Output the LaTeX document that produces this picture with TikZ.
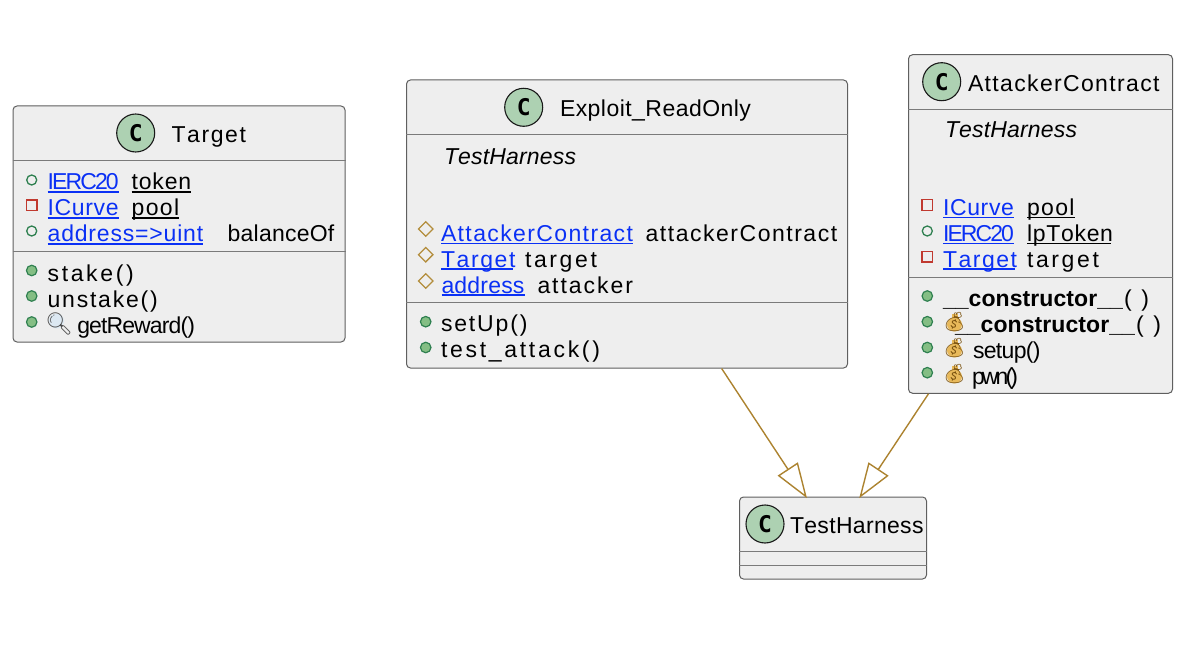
\documentclass[tikz,border=0pt]{standalone}
\usepackage{fontspec}
\setmainfont{Liberation Sans}
\newfontfamily\cfont{DejaVu Sans Mono}
\newfontfamily\emojifont{Noto Emoji}
\usetikzlibrary{arrows.meta,shapes.geometric}
\definecolor{boxfill}{HTML}{EEEEEE}
\definecolor{boxline}{HTML}{5F5F5F}
\definecolor{sepline}{HTML}{7A7A7A}
\definecolor{linkblue}{HTML}{0A30F5}
\definecolor{relcol}{HTML}{AC8330}
\definecolor{spotfill}{HTML}{ADD1B2}
\definecolor{dotfill}{HTML}{84BE84}
\definecolor{dotline}{HTML}{2F8050}
\definecolor{sqline}{HTML}{C0392F}
\definecolor{diaLine}{HTML}{B38D3C}
\definecolor{baggold}{HTML}{E8B95A}
\definecolor{bagdark}{HTML}{7A5210}
\definecolor{lensfill}{HTML}{DCE8F2}
\newcommand\fsz{\fontsize{23}{27}\selectfont}
\makeatletter
\newdimen\fitd \newcount\fitn \newsavebox\fitb
\newcommand\fitbox[2]{\hbox{%
  \sbox\fitb{#2}\fitn=-1
  \@tfor\fititem:=#2\do{\advance\fitn 1 }%
  \fitd=#1pt \advance\fitd-\wd\fitb \divide\fitd\fitn
  \@tfor\fititem:=#2\do{\fititem\kern\fitd}\unkern}}
\makeatother
\newcommand\ulfit[2]{\rlap{\rule[-2.6pt]{#1pt}{1.2pt}}\fitbox{#1}{#2}}
\newcounter{nn}
\newcommand\Txt[5][]{\stepcounter{nn}\node[lbl,#1] (t\thenn) at (#2,#3) {\fitbox{#4}{#5}};}
\newcommand\Ul[5][]{\stepcounter{nn}\node[lbl,#1] (t\thenn) at (#2,#3) {\ulfit{#4}{#5}};}
\newcommand\Link[4]{\Ul[text=linkblue]{#1}{#2}{#3}{#4}}
\newcommand\Mark[3]{\stepcounter{nn}\node[#1] (m\thenn) at (#2,#3) {};}
\newcommand\Spot[2]{\stepcounter{nn}\node[spot] (s\thenn) at (#1,#2) {C};}
\newcommand\Bag[2]{\stepcounter{nn}%
  \fill[baggold] (#1,#2+2.5) ellipse (7.5pt and 7pt);
  \fill[baggold] (#1-3,#2-8) rectangle (#1+3,#2-2);
  \node[emo,text=bagdark] (e\thenn) at (#1,#2) {\char"1F4B0};}
\tikzset{
  box/.style={draw=boxline,fill=boxfill,line width=1pt,rounded corners=4pt,inner sep=0pt},
  sep/.style={draw=sepline,line width=1pt},
  lbl/.style={anchor=base west,inner sep=0pt,outer sep=0pt,font=\fsz,text=black},
  spot/.style={circle,draw=black!90,fill=spotfill,line width=1.1pt,minimum size=38pt,inner sep=0pt,font=\fontsize{23}{23}\selectfont\cfont\bfseries},
  pubf/.style={circle,draw=dotline,line width=1.3pt,minimum size=10pt,inner sep=0pt},
  pubm/.style={circle,draw=dotline,fill=dotfill,line width=1.2pt,minimum size=10.5pt,inner sep=0pt},
  privf/.style={rectangle,draw=sqline,line width=1.3pt,minimum size=10.5pt,inner sep=0pt},
  protf/.style={diamond,draw=diaLine,line width=1.3pt,minimum width=15pt,minimum height=15pt,inner sep=0pt},
  emo/.style={inner sep=0pt,font=\fontsize{19}{19}\selectfont\emojifont},
  ext/.style={draw=relcol,line width=1.4pt,shorten >=-2pt,-{Triangle[open,fill=white,length=35pt,width=24pt]}},
}
\begin{document}
\begin{tikzpicture}[x=1pt,y=-1pt]
\useasboundingbox (0,0) rectangle (1189,647);
% boxes
\node[box,minimum width=332pt,minimum height=236pt] (target) at (179,224) {};
\node[box,minimum width=441pt,minimum height=288pt] (exploit) at (627,224) {};
\node[box,minimum width=264pt,minimum height=338.5pt] (attacker) at (1040.5,224) {};
\node[box,minimum width=187pt,minimum height=82pt] (harness) at (833,538) {};
% relations
\draw[ext] (exploit) -- (harness);
\draw[ext] (attacker) -- (harness);
% separators
\draw[sep] (target.west |- 0,160.5) -- (target.east |- 0,160.5);
\draw[sep] (target.west |- 0,251.5) -- (target.east |- 0,251.5);
\draw[sep] (exploit.west |- 0,135) -- (exploit.east |- 0,135);
\draw[sep] (exploit.west |- 0,302.7) -- (exploit.east |- 0,302.7);
\draw[sep] (attacker.west |- 0,109.3) -- (attacker.east |- 0,109.3);
\draw[sep] (attacker.west |- 0,277.3) -- (attacker.east |- 0,277.3);
\draw[sep] (harness.west |- 0,551.7) -- (harness.east |- 0,551.7);
\draw[sep] (harness.west |- 0,565.3) -- (harness.east |- 0,565.3);
% Target
\Spot{135.7}{133}
\Txt{171.5}{143}{72}{Target}
\Mark{pubf}{31.7}{180}
\Link{47.7}{190}{71}{IERC20}
\Ul{131.7}{190}{59.5}{token}
\Mark{privf}{31.7}{205.3}
\Link{47.7}{216}{71}{ICurve}
\Ul{131.7}{216}{47.5}{pool}
\Mark{pubf}{31.7}{231}
\Link{47.7}{242}{155.5}{address=>uint}
\Txt{227.7}{242}{106.7}{balanceOf}
\Mark{pubm}{31.7}{270.5}
\Txt{47.7}{281}{86}{stake()}
\Mark{pubm}{31.7}{296}
\Txt{47.7}{307}{110}{unstake()}
\Mark{pubm}{31.7}{322}
\fill[lensfill] (56.5,321) circle (7.5pt);
\stepcounter{nn}\node[emo,text=black!70,font=\fontsize{22}{22}\selectfont\emojifont] (e\thenn) at (59,323.5) {\char"1F50D};
\Txt{77.3}{333}{117.7}{getReward()}
% Exploit_ReadOnly
\Spot{523.7}{107.3}
\Txt{560}{116.7}{191}{Exploit\_ReadOnly}
\Txt[font=\fsz\itshape]{444}{165}{130}{TestHarness}
\Mark{protf}{425.7}{229}
\Link{441}{241.7}{192}{AttackerContract}
\Txt{645.7}{241.7}{191.5}{attackerContract}
\Mark{protf}{425.7}{254.7}
\Link{441}{267}{72}{Target}
\Txt{525}{267}{72}{target}
\Mark{protf}{425.7}{281}
\Link{441.5}{293}{83}{address}
\Txt{537.5}{293}{95.5}{attacker}
\Mark{pubm}{425.7}{321.7}
\Txt{441}{331.7}{86.5}{setUp()}
\Mark{pubm}{425.7}{347.5}
\Txt{441}{357.5}{159}{test\_attack()}
% AttackerContract
\Spot{941.7}{81.7}
\Txt{968}{91.7}{191.5}{AttackerContract}
\Txt[font=\fsz\itshape]{945}{138}{130}{TestHarness}
\Mark{privf}{927.3}{205}
\Link{943}{215.7}{71}{ICurve}
\Ul{1027}{215.7}{47.5}{pool}
\Mark{pubf}{927.3}{231}
\Link{943}{241.5}{71}{IERC20}
\Ul{1027}{241.5}{83.5}{lpToken}
\Mark{privf}{927.3}{256.7}
\Link{943}{267}{71.5}{Target}
\Txt{1027}{267}{72}{target}
\Mark{pubm}{927.3}{296}
\Txt[font=\fsz\bfseries]{943}{306.7}{180}{\_\_constructor\_\_}
\Txt{1124}{306.7}{25}{(\ )}
\Mark{pubm}{927.3}{321.7}
\Bag{954.5}{322}
\Txt[font=\fsz\bfseries]{955}{332.5}{180}{\_\_constructor\_\_}
\Txt{1136}{332.5}{25}{(\ )}
\Mark{pubm}{927.3}{347.5}
\Bag{954.5}{348}
\Txt{973}{358}{67.5}{setup()}
\Mark{pubm}{927.3}{372.7}
\Bag{954.5}{374}
\Txt{972}{384}{46}{pwn()}
% TestHarness
\Spot{765}{524}
\Txt{790}{533.3}{131}{TestHarness}
\end{tikzpicture}
\end{document}
